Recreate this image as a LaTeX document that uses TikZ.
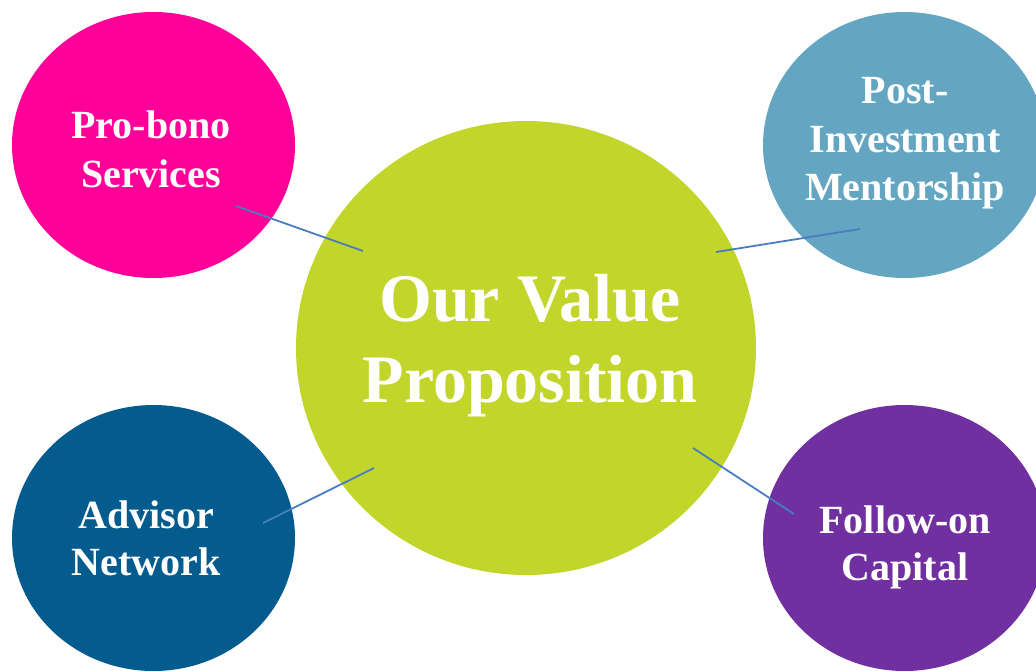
\documentclass[tikz,border=0pt]{standalone}
\usepackage{fontspec}
\setmainfont{Liberation Serif}
\usetikzlibrary{shapes.geometric}
\definecolor{pinkc}{HTML}{FF0099}
\definecolor{steelc}{HTML}{64A6C1}
\definecolor{navyc}{HTML}{045B8E}
\definecolor{purplec}{HTML}{7030A0}
\definecolor{limec}{HTML}{C2D52A}
\definecolor{linec}{HTML}{4A7CC0}
\begin{document}
\begin{tikzpicture}[x=1pt,y=-1pt,
  blob/.style={ellipse, inner sep=0pt, minimum width=283pt, minimum height=266pt},
  lbl/.style={text=white, anchor=base, inner sep=0pt, font=\bfseries\fontsize{40}{40}\selectfont},
  biglbl/.style={text=white, anchor=base, inner sep=0pt, font=\bfseries\fontsize{68}{68}\selectfont},
  conn/.style={draw=linec, line width=1.8pt}]
\useasboundingbox (0,0) rectangle (1036,670);
\clip (0,0) rectangle (1036,670);
\node[blob, fill=pinkc] (pb) at (153.5,145) {};
\node[blob, fill=steelc] (pi) at (904.5,145) {};
\node[blob, fill=navyc] (an) at (153.5,538) {};
\node[blob, fill=purplec] (fc) at (904.5,538) {};
\node[ellipse, inner sep=0pt, minimum width=460pt, minimum height=454pt, fill=limec] (vp) at (526,348) {};
% connector ends
\coordinate (pbA) at (236,206);
\coordinate (vpA) at (363,251);
\coordinate (piA) at (860,229);
\coordinate (vpB) at (716,252);
\coordinate (anA) at (263,523);
\coordinate (vpC) at (374,468);
\coordinate (fcA) at (794,514);
\coordinate (vpD) at (693,448);
\draw[conn] (pbA) -- (vpA);
\draw[conn] (piA) -- (vpB);
\draw[conn] (anA) -- (vpC);
\draw[conn] (fcA) -- (vpD);
% labels
\node[lbl] (pb1) at (151,138) {Pro-bono};
\node[lbl] (pb2) at (151,187) {Services};
\node[lbl] (pi1) at (905,103) {Post-};
\node[lbl] (pi2) at (905,152) {Investment};
\node[lbl] (pi3) at (905,200) {Mentorship};
\node[lbl] (an1) at (146,528) {Advisor};
\node[lbl] (an2) at (146,575) {Network};
\node[lbl] (fc1) at (905,533) {Follow-on};
\node[lbl] (fc2) at (905,580) {Capital};
\node[biglbl] (vp1) at (530,321) {Our Value};
\node[biglbl] (vp2) at (530,402) {Proposition};
\end{tikzpicture}
\end{document}
